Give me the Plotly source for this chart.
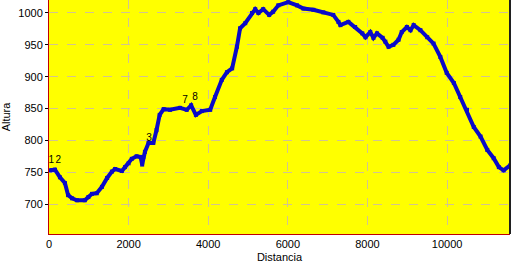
import plotly.graph_objects as go

distancia = [25, 150, 275, 400, 480, 580, 700, 900, 990, 1080, 1200, 1330, 1460, 1580, 1660,
             1830, 1910, 2000, 2080, 2200, 2300, 2340, 2370, 2410, 2500, 2620, 2700, 2780, 2880,
             3040, 3290, 3460, 3570, 3690, 3840, 4050, 4170, 4340, 4470, 4600, 4720, 4800, 4930,
             5100, 5180, 5260, 5380, 5530, 5630, 5760, 6010, 6230, 6390, 6640, 6890, 7140, 7270,
             7320, 7520, 7690, 7870, 7950, 8070, 8150, 8240, 8380, 8450, 8530, 8650, 8780, 8860,
             8990, 9080, 9160, 9330, 9500, 9660, 9830, 9990, 10170, 10330, 10500, 10670, 10840,
             11010, 11170, 11300, 11420, 11590]
altura = [753, 754, 742, 733, 714, 709, 706, 706, 711, 716, 717, 727, 741, 751, 755,
          752, 758, 764, 771, 775, 774, 762, 774, 782, 796, 796, 816, 840, 849,
          848, 851, 848, 855, 840, 846, 848, 868, 895, 907, 913, 947, 976, 984,
          1000, 1006, 1000, 1006, 997, 1002, 1012, 1017, 1012, 1007, 1005, 1001, 997, 986,
          981, 986, 978, 968, 962, 970, 961, 968, 961, 955, 947, 950, 958, 970,
          978, 973, 981, 973, 962, 952, 931, 906, 890, 868, 848, 821, 806,
          785, 772, 758, 753, 761]

punto_labels = ["1", "2", "3", "7", "8"]
punto_x = [55, 230, 2510, 3420, 3670]
punto_y = [768, 768, 803, 862, 867]

x_ticks = [0, 2000, 4000, 6000, 8000, 10000]
y_ticks = [700, 750, 800, 850, 900, 950, 1000]

fig = go.Figure()
fig.add_trace(go.Scatter(x=distancia, y=altura, mode="lines+markers",
                         line=dict(color="#0a0ac8", width=4),
                         marker=dict(color="#0a0ac8", size=4, symbol="square"),
                         hoverinfo="skip", showlegend=False))
fig.add_trace(go.Scatter(x=punto_x, y=punto_y, mode="text", text=punto_labels,
                         textfont=dict(family="Liberation Sans, Arial", size=10, color="black"),
                         textposition="middle center", showlegend=False, hoverinfo="skip"))

axis_font = dict(family="Liberation Sans, Arial", size=11, color="black")
fig.update_layout(
    width=513, height=266,
    margin=dict(l=49, r=3, t=0, b=32),
    paper_bgcolor="white", plot_bgcolor="#ffff00",
    xaxis=dict(range=[0, 11580], tickvals=x_ticks, ticktext=[str(v) for v in x_ticks],
               showgrid=True, gridcolor="#d2c490", griddash="dash", gridwidth=1,
               showline=True, linecolor="#c00000", linewidth=1, zeroline=False,
               ticks="", tickfont=axis_font,
               title=dict(text="Distancia", font=axis_font, standoff=4)),
    yaxis=dict(range=[653, 1020.4], tickvals=y_ticks, ticktext=[str(v) for v in y_ticks],
               showgrid=True, gridcolor="#d2c490", griddash="dash", gridwidth=1,
               showline=True, linecolor="#c00000", linewidth=1, zeroline=False,
               ticks="outside", ticklen=3, tickcolor="black", tickfont=axis_font,
               title=dict(text="Altura", font=axis_font, standoff=5)),
)
fig.add_shape(type="line", xref="paper", yref="paper", x0=1, x1=1, y0=0, y1=1,
              line=dict(color="#202020", width=2))
fig.write_html("out.html")
